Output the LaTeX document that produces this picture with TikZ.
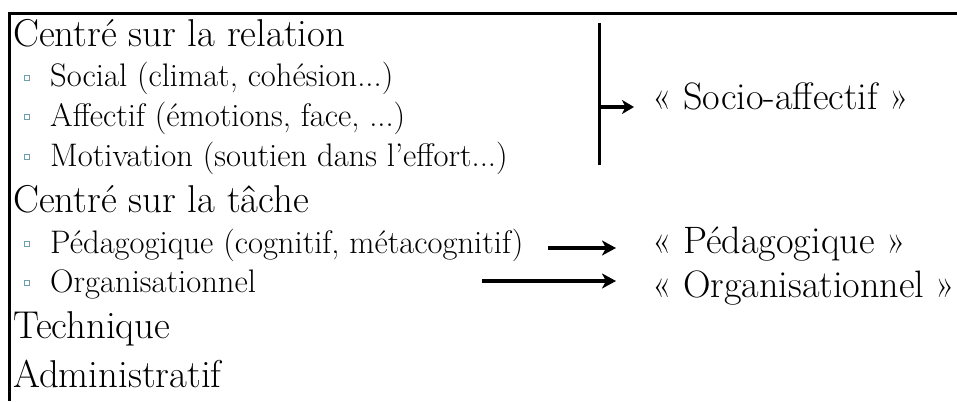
\documentclass[tikz,border=0pt]{standalone}
\usetikzlibrary{arrows.meta}

\definecolor{bulletgray}{RGB}{112,160,172}
\def\headSize{\fontsize{38.8}{40}\selectfont}
\def\itemSize{\fontsize{32.6}{34}\selectfont}
\def\resultSize{\fontsize{38.2}{40}\selectfont}

\begin{document}
\begin{tikzpicture}[x=1pt,y=-1pt,
        heading/.style={anchor=base west,inner sep=0pt,font=\headSize},
        subitem/.style={anchor=base west,inner sep=0pt,font=\itemSize},
        result/.style={anchor=base west,inner sep=0pt,font=\resultSize},
        squarebullet/.style={draw=bulletgray,line width=1.1pt,minimum size=5.5pt,inner sep=0pt},
        bigarrow/.style={line width=3.8pt,-{Stealth[length=14pt,width=15pt,inset=4pt]}}]

    \useasboundingbox (0,0) rectangle (957,401);

    % frame (open on the right and at the bottom)
    \draw [line width=2.4pt] (957,13.5) -- (9.5,13.5) -- (9.5,401);

    % list on the left
    \node [heading] (relation)   at (13,47)  {Centré sur la relation};
    \node [subitem] (social)     at (50,87)  {Social (climat, cohésion...)};
    \node [subitem] (affectif)   at (50,126) {Affectif (émotions, face, ...)};
    \node [subitem] (motivation) at (50,166) {Motivation (soutien dans l’effort...)};
    \node [heading] (tache)      at (13,212) {Centré sur la tâche};
    \node [subitem] (pedago)     at (50,253) {Pédagogique (cognitif, métacognitif)};
    \node [subitem] (organis)    at (50,292) {Organisationnel};
    \node [heading] (technique)  at (13,338) {Technique};
    \node [heading] (admin)      at (13,387) {Administratif};

    \foreach \y in {87,126,166,253,292}{%
            \node [squarebullet] (bullet\y) at (27,\y-9) {};
        }

    % results on the right
    \node [result] (socioAff) at (652,110) {«~Socio-affectif~»};
    \node [result] (pedagoR)  at (652,253) {«~Pédagogique~»};
    \node [result] (organisR) at (652,297) {«~Organisationnel~»};

    \coordinate (barTop)    at (599,23);
    \coordinate (barBot)    at (599,165);
    \coordinate (barMid)    at (599,107);
    \coordinate (socioTip)  at (634,107);
    \coordinate (pedStart)  at (548,248);
    \coordinate (pedTip)    at (616,248);
    \coordinate (orgStart)  at (482,281);
    \coordinate (orgTip)    at (616,281);

    \draw [line width=3pt] (barTop) -- (barBot);
    \draw [line width=3.2pt,-{Stealth[length=12pt,width=14pt,inset=3.5pt]}] (barMid) -- (socioTip);
    \draw [bigarrow] (pedStart) -- (pedTip);
    \draw [bigarrow] (orgStart) -- (orgTip);

\end{tikzpicture}
\end{document}
